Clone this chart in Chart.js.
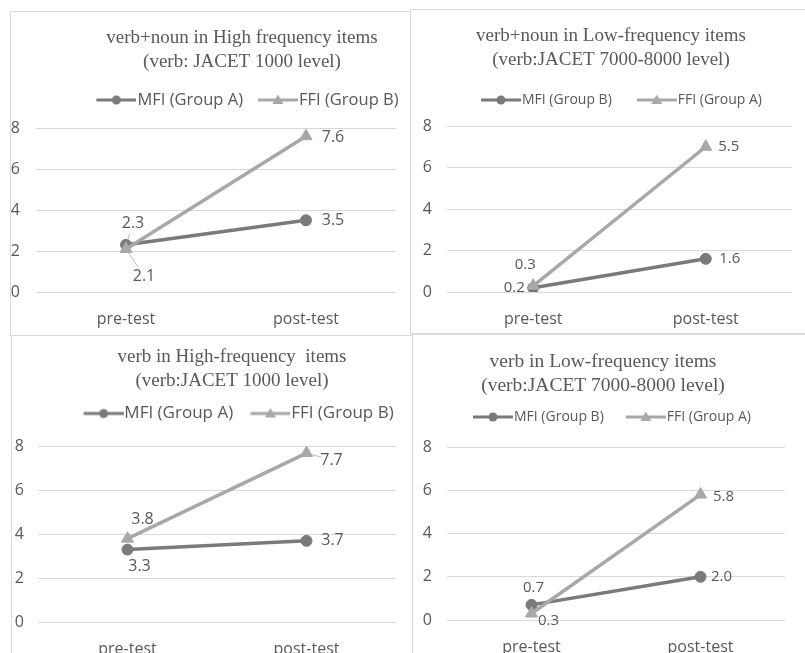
<!DOCTYPE html>
<html>
<head>
<meta charset="utf-8">
<script src="https://cdn.jsdelivr.net/npm/chart.js@4.4.0/dist/chart.umd.min.js"></script>
<style>
  body { margin: 0; width: 805px; height: 653px; overflow: hidden; background: #fff; position: relative; }
  .panel { position: absolute; border: 1px solid #d9d9d9; overflow: hidden; background: #fff; }
  .panel canvas { position: absolute; left: 0; top: 0; }
</style>
</head>
<body>
<div class="panel" style="left:10px;top:11px;width:399px;height:323px"><canvas id="c1"></canvas></div>
<div class="panel" style="left:410px;top:9px;width:400px;height:323px"><canvas id="c2"></canvas></div>
<div class="panel" style="left:11px;top:335px;width:400px;height:330px"><canvas id="c3"></canvas></div>
<div class="panel" style="left:412px;top:334px;width:400px;height:330px"><canvas id="c4"></canvas></div>
<script>
// shared axis
const categories = ['pre-test', 'post-test'];
const yMin = 0;
const yMax = 8;
const yStep = 2;

// verb+noun, high frequency
const hiNounTitle = ['verb+noun in High frequency items', '(verb: JACET 1000 level)'];
const hiNounLegend = ['MFI (Group A)', 'FFI (Group B)'];
const hiNounMFI = [2.3, 3.5];
const hiNounFFI = [2.1, 7.6];

// verb+noun, low frequency
const loNounTitle = ['verb+noun in Low-frequency items', '(verb:JACET 7000-8000 level)'];
const loNounLegend = ['MFI (Group B)', 'FFI (Group A)'];
const loNounMFI = [0.2, 1.6];
const loNounFFI = [0.3, 7.0];
// the printed label says 5.5 although the marker sits at about 7
const loNounFFILabels = ['0.3', '5.5'];

// verb, high frequency
const hiVerbTitle = ['verb in High-frequency  items', '(verb:JACET 1000 level)'];
const hiVerbLegend = ['MFI (Group A)', 'FFI (Group B)'];
const hiVerbMFI = [3.3, 3.7];
const hiVerbFFI = [3.8, 7.7];

// verb, low frequency
const loVerbTitle = ['verb in Low-frequency items', '(verb:JACET 7000-8000 level)'];
const loVerbLegend = ['MFI (Group B)', 'FFI (Group A)'];
const loVerbMFI = [0.7, 2.0];
const loVerbFFI = [0.3, 5.8];

const MFI_COLOR = '#7a7a7a';
const FFI_COLOR = '#a8a8a8';
const TEXT_COLOR = '#595959';
const SANS = '"Open Sans", sans-serif';
const SERIF = '"Liberation Serif", "Times New Roman", serif';

// value labels next to the points, with an optional thin leader line
const pointLabels = {
    id: 'pointLabels',
    afterDatasetsDraw(chart, args, opts) {
        const ctx = chart.ctx;
        chart.data.datasets.forEach((ds, i) => {
            const meta = chart.getDatasetMeta(i);
            if (meta.hidden) return;
            meta.data.forEach((pt, j) => {
                const [dx, dy, leader] = ds.labelOffsets[j];
                const text = ds.valueLabels ? ds.valueLabels[j] : ds.data[j].toFixed(1);
                const x = pt.x + dx;
                const y = pt.y + dy;
                ctx.save();
                if (leader) {
                    const d = Math.hypot(dx, dy);
                    const ux = dx / d, uy = dy / d;
                    ctx.strokeStyle = '#bdbdbd';
                    ctx.lineWidth = 1;
                    ctx.beginPath();
                    ctx.moveTo(pt.x + ux * 5, pt.y + uy * 5);
                    ctx.lineTo(x - ux * 10, y - uy * 10);
                    ctx.stroke();
                }
                ctx.font = opts.size + 'px ' + SANS;
                ctx.fillStyle = TEXT_COLOR;
                ctx.textAlign = 'center';
                ctx.textBaseline = 'middle';
                ctx.fillText(text, x, y);
                ctx.restore();
            });
        });
    }
};

// legend symbol: a short line with the marker in its middle
function legendIcon(color, shape, width, lineLen) {
    const c = document.createElement('canvas');
    c.width = width;
    c.height = 16;
    const g = c.getContext('2d');
    g.strokeStyle = color;
    g.fillStyle = color;
    g.lineWidth = 3;
    g.beginPath();
    g.moveTo(width - lineLen, 8);
    g.lineTo(width, 8);
    g.stroke();
    const cx = width - lineLen / 2;
    g.beginPath();
    if (shape === 'circle') {
        g.arc(cx, 8, 4.5, 0, Math.PI * 2);
    } else {
        g.moveTo(cx, 2.5);
        g.lineTo(cx + 5.5, 12);
        g.lineTo(cx - 5.5, 12);
        g.closePath();
    }
    g.fill();
    return c;
}

function buildChart(id, o) {
    const canvas = document.getElementById(id);
    canvas.width = o.width;
    canvas.height = o.height;
    canvas.style.width = o.width + 'px';
    canvas.style.height = o.height + 'px';

    const pad = 4;
    const spill = o.legendFont / 2 - 1;
    const boxW = o.legendGap + o.lineLen - spill - pad;
    const iconW = Math.round(boxW + 2 * spill);

    new Chart(canvas, {
        type: 'line',
        data: {
            labels: categories,
            datasets: [
                {
                    label: o.legend[0],
                    data: o.mfi,
                    xAxisID: 'x',
                    yAxisID: 'y',
                    borderColor: MFI_COLOR,
                    backgroundColor: MFI_COLOR,
                    pointStyle: 'circle',
                    pointRadius: 5.5,
                    pointHoverRadius: 5.5,
                    order: 1,
                    labelOffsets: o.mfiOffsets,
                    legendIcon: legendIcon(MFI_COLOR, 'circle', iconW, o.lineLen)
                },
                {
                    label: o.legend[1],
                    data: o.ffi,
                    xAxisID: 'x',
                    yAxisID: 'y',
                    borderColor: FFI_COLOR,
                    backgroundColor: FFI_COLOR,
                    pointStyle: 'triangle',
                    pointRadius: 7,
                    pointHoverRadius: 7,
                    order: 0,
                    valueLabels: o.ffiLabels,
                    labelOffsets: o.ffiOffsets,
                    legendIcon: legendIcon(FFI_COLOR, 'triangle', iconW, o.lineLen)
                }
            ]
        },
        options: {
            responsive: false,
            animation: false,
            devicePixelRatio: 1,
            elements: {
                line: { borderWidth: 3.5, tension: 0 },
                point: { borderWidth: 1 }
            },
            layout: { padding: { left: 0, right: 0, top: 0, bottom: o.padBottom } },
            plugins: {
                title: {
                    display: true,
                    text: o.title,
                    color: TEXT_COLOR,
                    font: { family: SERIF, size: o.titleFont, weight: 'normal', lineHeight: 24 / o.titleFont },
                    padding: o.titlePad
                },
                legend: {
                    position: 'top',
                    labels: {
                        usePointStyle: true,
                        pointStyleWidth: boxW,
                        padding: pad,
                        color: TEXT_COLOR,
                        font: { family: SANS, size: o.legendFont },
                        generateLabels: chart => chart.data.datasets.map((ds, i) => ({
                            text: ds.label,
                            pointStyle: ds.legendIcon,
                            fontColor: TEXT_COLOR,
                            lineWidth: 0,
                            hidden: !chart.isDatasetVisible(i),
                            datasetIndex: i
                        }))
                    }
                },
                tooltip: { enabled: false },
                pointLabels: { size: o.valueFont }
            },
            scales: {
                x: {
                    type: 'category',
                    offset: true,
                    grid: { display: false, drawTicks: false },
                    border: { display: false },
                    ticks: { padding: 18, color: TEXT_COLOR, font: { family: SANS, size: 16 } },
                    afterFit: s => { s.height = 40; }
                },
                // empty strip between the legend and the plot
                xGap: {
                    type: 'category',
                    position: 'top',
                    grid: { display: false, drawTicks: false },
                    border: { display: false },
                    ticks: { display: false },
                    afterFit: s => { s.height = o.gap; }
                },
                y: {
                    min: yMin,
                    max: yMax,
                    grid: { color: '#d9d9d9', lineWidth: 1, drawTicks: false },
                    border: { display: false },
                    ticks: { stepSize: yStep, padding: o.tickPad, color: TEXT_COLOR, font: { family: SANS, size: 16 } },
                    afterFit: s => { s.width = o.axisLeft; }
                },
                // empty strip right of the plot, so title and legend stay centred on the whole canvas
                yGap: {
                    type: 'linear',
                    position: 'right',
                    grid: { display: false, drawTicks: false },
                    border: { display: false },
                    ticks: { display: false },
                    afterFit: s => { s.width = o.rightGap; }
                }
            }
        },
        plugins: [pointLabels]
    });
}

buildChart('c1', {
    width: 462, height: 330,
    title: hiNounTitle, legend: hiNounLegend, mfi: hiNounMFI, ffi: hiNounFFI,
    titleFont: 19, titlePad: { top: 14, bottom: 13.75 }, legendFont: 16.5, legendGap: 15, lineLen: 40, gap: 9.75,
    axisLeft: 25, rightGap: 77, padBottom: 10, tickPad: 16, valueFont: 16,
    mfiOffsets: [[7, -21, true], [27, 0]],
    ffiOffsets: [[18, 27, true], [27, 1]]
});

buildChart('c2', {
    width: 400, height: 330,
    title: loNounTitle, legend: loNounLegend, mfi: loNounMFI, ffi: loNounFFI, ffiLabels: loNounFFILabels,
    titleFont: 19, titlePad: { top: 14.5, bottom: 16.5 }, legendFont: 14, legendGap: 25, lineLen: 40, gap: 9,
    axisLeft: 36, rightGap: 19, padBottom: 8, tickPad: 15, valueFont: 15,
    mfiOffsets: [[-19, 0], [24, 0]],
    ffiOffsets: [[-8, -21], [23, 0]]
});

buildChart('c3', {
    width: 440, height: 330,
    title: hiVerbTitle, legend: hiVerbLegend, mfi: hiVerbMFI, ffi: hiVerbFFI,
    titleFont: 19, titlePad: { top: 9.5, bottom: 7.5 }, legendFont: 17, legendGap: 17, lineLen: 40, gap: 14.5,
    axisLeft: 26, rightGap: 56, padBottom: 4, tickPad: 14, valueFont: 16,
    mfiOffsets: [[12, 17], [26, 0]],
    ffiOffsets: [[15, -19], [25, 7, true]]
});

buildChart('c4', {
    width: 380, height: 330,
    title: loVerbTitle, legend: loVerbLegend, mfi: loVerbMFI, ffi: loVerbFFI,
    titleFont: 19.5, titlePad: { top: 15, bottom: 8 }, legendFont: 14, legendGap: 22, lineLen: 40, gap: 13,
    axisLeft: 34, rightGap: 0, padBottom: 5, tickPad: 15, valueFont: 15,
    mfiOffsets: [[2, -17], [21, 0]],
    ffiOffsets: [[17, 7], [23, 2]]
});
</script>
</body>
</html>
